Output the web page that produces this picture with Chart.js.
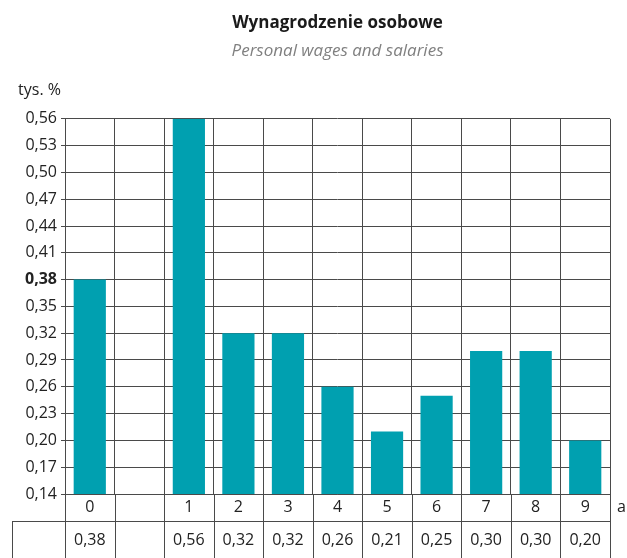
<!DOCTYPE html>
<html>
<head>
<meta charset="utf-8">
<script src="https://cdn.jsdelivr.net/npm/chart.js@4/dist/chart.umd.min.js"></script>
<style>
  html, body { margin: 0; padding: 0; background: #fff; }
  #wrap { width: 627px; height: 558px; }
</style>
</head>
<body>
<div id="wrap"><canvas id="wykres" width="627" height="558"></canvas></div>
<script>
// dane
const kategorie = ['0', '', '1', '2', '3', '4', '5', '6', '7', '8', '9'];
const wartosci = [0.38, null, 0.56, 0.32, 0.32, 0.26, 0.21, 0.25, 0.30, 0.30, 0.20];
const etykietyWartosci = ['0,38', '', '0,56', '0,32', '0,32', '0,26', '0,21', '0,25', '0,30', '0,30', '0,20'];
const tytul = 'Wynagrodzenie osobowe';
const podtytul = 'Personal wages and salaries';
const jednostka = 'tys. %';
const osX = 'a';

const FONT = '"Open Sans", "Noto Sans", sans-serif';
const LINIA = '#4a4a4a';

// tabela pod wykresem + podpisy osi
const tabela = {
  id: 'tabela',
  afterDraw(chart) {
    const ctx = chart.ctx;
    const x = chart.scales.x;
    const area = chart.chartArea;
    const n = kategorie.length;
    const szer = (x.getPixelForValue(1) - x.getPixelForValue(0));
    const lewy = x.getPixelForValue(0) - szer / 2;
    const prawy = x.getPixelForValue(n - 1) + szer / 2;
    const r1 = area.bottom + 27;
    const r2 = chart.height;
    ctx.save();
    ctx.strokeStyle = LINIA;
    ctx.lineWidth = 1;
    ctx.beginPath();
    // poziome linie tabeli
    ctx.moveTo(lewy, area.bottom + 0.5); ctx.lineTo(prawy, area.bottom + 0.5);
    ctx.moveTo(12, r1 + 0.5); ctx.lineTo(prawy, r1 + 0.5);
    // pionowe
    for (let i = 0; i <= n; i++) {
      const px = Math.round(lewy + i * szer) + 0.5;
      ctx.moveTo(px, area.bottom); ctx.lineTo(px, r2);
    }
    ctx.moveTo(12.5, r1); ctx.lineTo(12.5, r2);
    ctx.stroke();

    ctx.fillStyle = '#222';
    ctx.font = '16px ' + FONT;
    ctx.textAlign = 'center';
    ctx.textBaseline = 'middle';
    etykietyWartosci.forEach((t, i) => {
      ctx.fillText(t, x.getPixelForValue(i), (r1 + r2) / 2 + 1);
    });
    ctx.textAlign = 'left';
    ctx.fillText(osX, prawy + 7, area.bottom + 13);
    ctx.textAlign = 'right';
    ctx.fillText(jednostka, 61, 90);
    ctx.restore();
  }
};

new Chart(document.getElementById('wykres'), {
  type: 'bar',
  data: {
    labels: kategorie,
    datasets: [{
      data: wartosci,
      backgroundColor: '#00a0b0',
      barPercentage: 0.65,
      categoryPercentage: 1
    }]
  },
  options: {
    responsive: false,
    animation: false,
    layout: { padding: { top: 0, right: 17, left: 0, bottom: 0 } },
    plugins: {
      legend: { display: false },
      tooltip: { enabled: false },
      title: {
        display: true,
        text: tytul,
        fullSize: false,
        color: '#1a1a1a',
        font: { family: FONT, size: 17, weight: 'bold' },
        padding: { top: 13, bottom: 2 }
      },
      subtitle: {
        display: true,
        text: podtytul,
        fullSize: false,
        color: '#808080',
        font: { family: FONT, size: 17, style: 'italic' },
        padding: { top: 6, bottom: 57 }
      }
    },
    scales: {
      x: {
        offset: true,
        grid: { offset: true, color: LINIA, drawTicks: false },
        border: { display: false },
        ticks: { color: '#222', font: { family: FONT, size: 16 }, padding: 4, maxRotation: 0, autoSkip: false },
        afterFit(s) { s.height = 64; }
      },
      y: {
        min: 0.14,
        max: 0.56,
        grid: { color: LINIA, tickLength: 4 },
        border: { display: false },
        ticks: {
          stepSize: 0.03,
          color: '#222',
          padding: 4,
          font: ctx => ({ family: FONT, size: 16, weight: (ctx.tick && Math.abs(ctx.tick.value - 0.38) < 1e-6) ? 'bold' : 'normal' }),
          callback: v => v.toFixed(2).replace('.', ',')
        },
        afterFit(s) { s.width = 65; }
      }
    }
  },
  plugins: [tabela]
});
</script>
</body>
</html>
